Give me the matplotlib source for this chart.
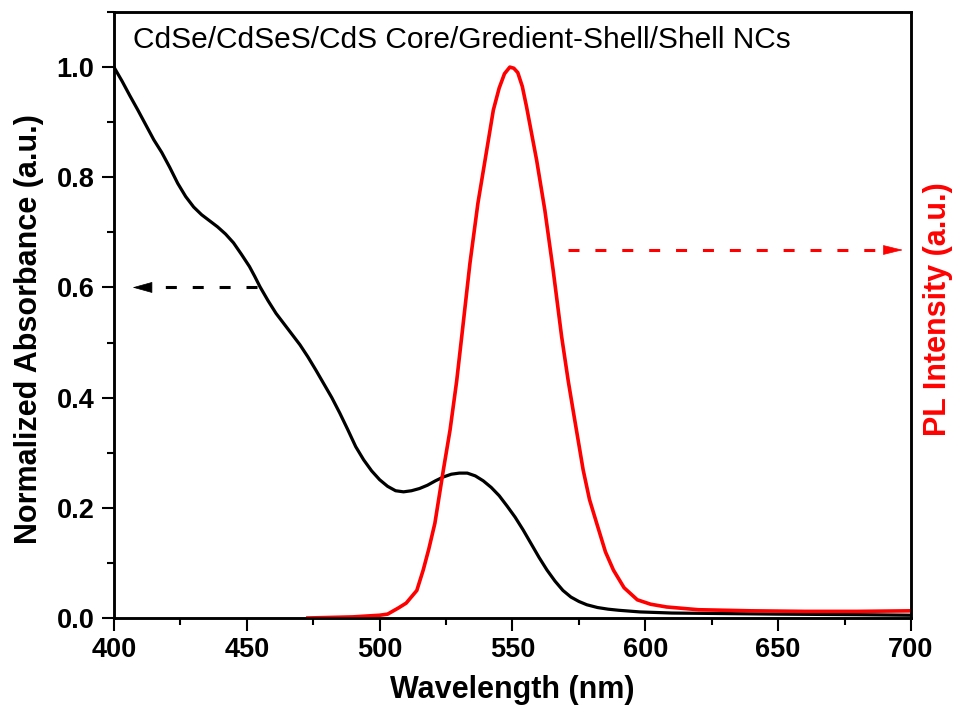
import matplotlib
matplotlib.use("Agg")
import matplotlib.pyplot as plt
from matplotlib.ticker import MultipleLocator

plt.rcParams['font.family'] = ['Liberation Sans', 'DejaVu Sans']

# Absorbance (normalized)
abs_wl = [400, 403, 406, 409, 412, 415, 418, 421, 424, 427, 430, 433, 436, 439, 442, 445,
          448, 451, 453, 455, 458, 461, 464, 467, 470, 473, 476, 479, 482, 485, 488, 491,
          494, 497, 500, 503, 506, 509, 512, 515, 518, 521, 524, 527, 530, 533, 536, 539,
          542, 545, 548, 551, 554, 557, 560, 563, 566, 569, 572, 575, 578, 582, 586, 590,
          598, 610, 620, 650, 680, 700]
abs_val = [1.0, 0.975, 0.948, 0.922, 0.895, 0.868, 0.845, 0.818, 0.789, 0.765, 0.746, 0.732,
           0.721, 0.710, 0.697, 0.681, 0.660, 0.638, 0.620, 0.601, 0.576, 0.553, 0.534,
           0.515, 0.496, 0.474, 0.450, 0.425, 0.400, 0.372, 0.342, 0.311, 0.287, 0.267,
           0.251, 0.239, 0.231, 0.229, 0.231, 0.235, 0.241, 0.249, 0.256, 0.261, 0.263,
           0.263, 0.258, 0.249, 0.237, 0.222, 0.203, 0.183, 0.160, 0.135, 0.110, 0.087,
           0.067, 0.050, 0.038, 0.030, 0.024, 0.019, 0.016, 0.014, 0.011, 0.009, 0.0085,
           0.007, 0.006, 0.005]

# PL intensity (normalized)
pl_wl = [473, 490, 500, 503, 507, 510, 514, 516.4, 518.5, 520.8, 524, 526.5, 529, 531, 534,
         537, 540.3, 542.8, 545, 547, 549, 550.5, 552, 553.7, 555.3, 559.1, 562.2, 565.3,
         568.5, 571, 573, 576.6, 579, 581.7, 585, 588, 592, 597, 602, 608, 620, 640, 660,
         680, 700]
pl_val = [0.0, 0.002, 0.005, 0.007, 0.018, 0.027, 0.05, 0.087, 0.125, 0.172, 0.269, 0.341,
          0.43, 0.515, 0.644, 0.753, 0.849, 0.922, 0.962, 0.988, 1.0, 0.998, 0.99, 0.965,
          0.928, 0.831, 0.740, 0.632, 0.511, 0.43, 0.372, 0.269, 0.215, 0.172, 0.12, 0.087,
          0.055, 0.033, 0.025, 0.02, 0.015, 0.013, 0.012, 0.012, 0.013]

x_ticks = [400, 450, 500, 550, 600, 650, 700]
y_ticks = [0.0, 0.2, 0.4, 0.6, 0.8, 1.0]

fig = plt.figure(figsize=(9.56, 7.07), dpi=100)
ax = fig.add_axes([0.1192, 0.1259, 0.8337, 0.8571])
ax.plot(abs_wl, abs_val, color='black', lw=2.3, solid_joinstyle='round')
ax.set_xlim(400, 700)
ax.set_ylim(0, 1.1)
ax.set_xticks(x_ticks)
ax.set_yticks(y_ticks)
ax.set_yticklabels([f"{v:.1f}" for v in y_ticks])
ax.xaxis.set_minor_locator(MultipleLocator(25))
ax.yaxis.set_minor_locator(MultipleLocator(0.1))
ax.tick_params(axis='both', which='major', direction='out', length=9, width=1.5,
               labelsize=19.5, pad=5)
ax.tick_params(axis='both', which='minor', direction='out', length=5, width=1.5)
ax.tick_params(top=False, right=False, which='both')
for lbl in ax.get_xticklabels() + ax.get_yticklabels():
    lbl.set_fontweight('bold')
for s in ax.spines.values():
    s.set_linewidth(1.8)
ax.set_xlabel('Wavelength (nm)', fontsize=22, fontweight='bold', labelpad=8)
ax.set_ylabel('Normalized Absorbance (a.u.)', fontsize=22, fontweight='bold')
ax.yaxis.set_label_coords(-0.088, 0.477)

ax2 = ax.twinx()
ax2.plot(pl_wl, pl_val, color='#ff0000', lw=2.6, solid_joinstyle='round')
ax2.set_ylim(0, 1.1)
ax2.set_yticks([])
ax2.set_ylabel('PL Intensity (a.u.)', fontsize=22, fontweight='bold', color='#ff0000')
ax2.yaxis.set_label_coords(1.015, 0.509)
for s in ax2.spines.values():
    s.set_linewidth(1.8)

ax.text(0.024, 0.954, 'CdSe/CdSeS/CdS Core/Gredient-Shell/Shell NCs', transform=ax.transAxes,
        fontsize=21.5, ha='left', va='center')

# Dashed arrows
dash = (0, (3.6, 5.2))
ax.plot([454, 412], [0.60, 0.60], color='black', lw=2.2, linestyle=dash)
ax.annotate('', xy=(407, 0.60), xytext=(414, 0.60),
            arrowprops=dict(arrowstyle='-|>,head_length=1.3,head_width=0.36',
                            color='black', lw=0.5, shrinkA=0, shrinkB=0))
ax.plot([571, 691], [0.668, 0.668], color='#ff0000', lw=2.2, linestyle=dash)
ax.annotate('', xy=(697, 0.668), xytext=(690, 0.668),
            arrowprops=dict(arrowstyle='-|>,head_length=1.3,head_width=0.32',
                            color='#ff0000', lw=0.5, shrinkA=0, shrinkB=0))

fig.savefig('out.png', dpi=100)
